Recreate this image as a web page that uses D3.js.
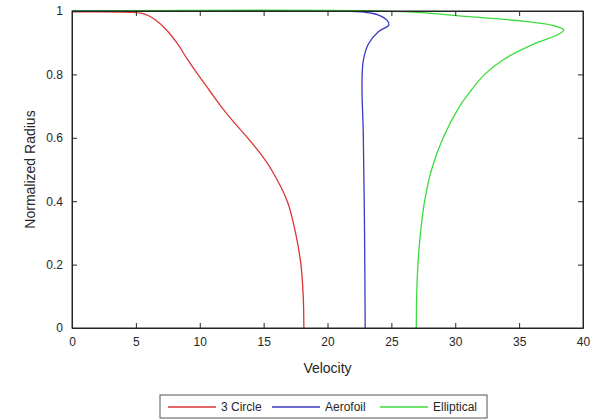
<!DOCTYPE html>
<html>
<head>
  <meta charset="utf-8" />
  <script src="https://d3js.org/d3.v7.min.js"></script>
  <style>
    body {
      margin: 0;
      background: #fff;
      font-family: "Liberation Sans", Arial, sans-serif;
    }
    .axis text {
      font-size: 12px;
      fill: #262626;
    }
    .line {
      fill: none;
      stroke-width: 1.3px;
    }
  </style>
</head>
<body>
  <script>
    // velocity (x) (y)
    var circleR = [0, 0.1, 0.2, 0.3, 0.4, 0.5, 0.55, 0.6, 0.65, 0.7, 0.75, 0.8, 0.85, 0.9, 0.94, 0.97, 0.985, 0.993, 0.996, 0.997];
    var circleV = [18.15, 18.1, 17.92, 17.5, 16.85, 15.6, 14.75, 13.75, 12.65, 11.65, 10.75, 9.85, 9.0, 8.2, 7.4, 6.6, 6.0, 5.4, 4.6, 0];

    var aeroR = [0, 0.3, 0.614, 0.772, 0.843, 0.896, 0.935, 0.956, 0.971, 0.987, 0.996, 0.999, 1.0];
    var aeroV = [22.95, 22.9, 22.8, 22.7, 22.8, 23.2, 24.0, 24.8, 24.65, 24.0, 22.95, 21.4, 0];

    var ellipR = [0, 0.1, 0.2, 0.3, 0.4, 0.5, 0.6, 0.7, 0.75, 0.8, 0.85, 0.9, 0.925, 0.94, 0.955, 0.968, 0.982, 0.998, 1.0];
    var ellipV = [26.95, 26.98, 27.08, 27.28, 27.6, 28.15, 29.05, 30.35, 31.25, 32.3, 33.9, 36.4, 38.0, 38.5, 37.6, 35.3, 31.1, 25.8, 0];

    var seriesNames = ["3 Circle", "Aerofoil", "Elliptical"];
    var seriesColors = ["#dd3434", "#3a3ac8", "#3cdc3c"];
    var xTicks = [0, 5, 10, 15, 20, 25, 30, 35, 40];
    var yTicks = [0, 0.2, 0.4, 0.6, 0.8, 1];

    var data = [
      { name: seriesNames[0], r: circleR, v: circleV },
      { name: seriesNames[1], r: aeroR, v: aeroV },
      { name: seriesNames[2], r: ellipR, v: ellipV }
    ];

    var margin = { top: 11, right: 13, bottom: 92, left: 72 };
    var width = 596 - margin.left - margin.right;
    var height = 420 - margin.top - margin.bottom;

    var x = d3.scaleLinear().domain([0, 40]).range([0, width]);
    var y = d3.scaleLinear().domain([0, 1]).range([height, 0]);
    var color = d3.scaleOrdinal().domain(seriesNames).range(seriesColors);

    var svg = d3.select("body")
      .append("svg")
      .attr("width", 596)
      .attr("height", 420)
      .append("g")
      .attr("transform", `translate(${margin.left} ${margin.top})`);

    var line = d3.line()
      .x(function(d) { return x(d[0]); })
      .y(function(d) { return y(d[1]); })
      .curve(d3.curveCatmullRom.alpha(0.5));

    svg.selectAll()
      .data(data)
      .enter()
      .append("path")
      .attr("class", "line")
      .attr("d", function(d) {
        return line(d.v.map(function(v, i) { return [v, d.r[i]]; }));
      })
      .style("stroke", function(d) { return color(d.name); })
      .style("stroke-linejoin", "round");

    // axes, MATLAB style: ticks pointing in, box all round
    var tickLen = 5;
    var xAxis = d3.axisBottom(x).tickValues(xTicks).tickSizeInner(-tickLen).tickSizeOuter(0).tickPadding(9);
    var yAxis = d3.axisLeft(y).tickValues(yTicks).tickSizeInner(-tickLen).tickSizeOuter(0).tickPadding(9)
      .tickFormat(d3.format("~g"));
    var xTop = d3.axisTop(x).tickValues(xTicks).tickSizeInner(-tickLen).tickSizeOuter(0).tickFormat("");
    var yRight = d3.axisRight(y).tickValues(yTicks).tickSizeInner(-tickLen).tickSizeOuter(0).tickFormat("");

    svg.append("g").attr("class", "axis").attr("transform", `translate(0 ${height})`).call(xAxis);
    svg.append("g").attr("class", "axis").call(yAxis);
    svg.append("g").attr("class", "axis").call(xTop);
    svg.append("g").attr("class", "axis").attr("transform", `translate(${width} 0)`).call(yRight);

    svg.selectAll(".axis path, .axis line").attr("stroke", "#262626");
    svg.selectAll(".axis text").attr("font-family", null).attr("font-size", null);

    svg.append("rect")
      .attr("width", width)
      .attr("height", height)
      .attr("fill", "none")
      .attr("stroke", "#262626")
      .attr("stroke-width", 1);

    // axis titles
    svg.append("text")
      .attr("x", width / 2)
      .attr("y", height + 45)
      .attr("text-anchor", "middle")
      .style("font-size", "14px")
      .style("fill", "#262626")
      .text("Velocity");

    svg.append("text")
      .attr("transform", `translate(-37 ${height / 2}) rotate(-90)`)
      .attr("text-anchor", "middle")
      .style("font-size", "14px")
      .style("fill", "#262626")
      .text("Normalized Radius");

    // legend
    var legend = svg.append("g")
      .attr("transform", `translate(${160 - margin.left} ${395 - margin.top})`);

    legend.append("rect")
      .attr("width", 327)
      .attr("height", 23)
      .attr("fill", "#fff")
      .attr("stroke", "#555")
      .attr("stroke-width", 1);

    var legendX = [8, 112, 220];
    var item = legend.selectAll()
      .data(seriesNames)
      .enter()
      .append("g")
      .attr("transform", function(d, i) { return `translate(${legendX[i]} 12)`; });

    item.append("line")
      .attr("x1", 0)
      .attr("x2", 48)
      .attr("stroke", function(d) { return color(d); })
      .attr("stroke-width", 1.3);

    item.append("text")
      .attr("x", 53)
      .attr("dy", "0.35em")
      .style("font-size", "12px")
      .style("fill", "#262626")
      .text(function(d) { return d; });
  </script>
</body>
</html>
